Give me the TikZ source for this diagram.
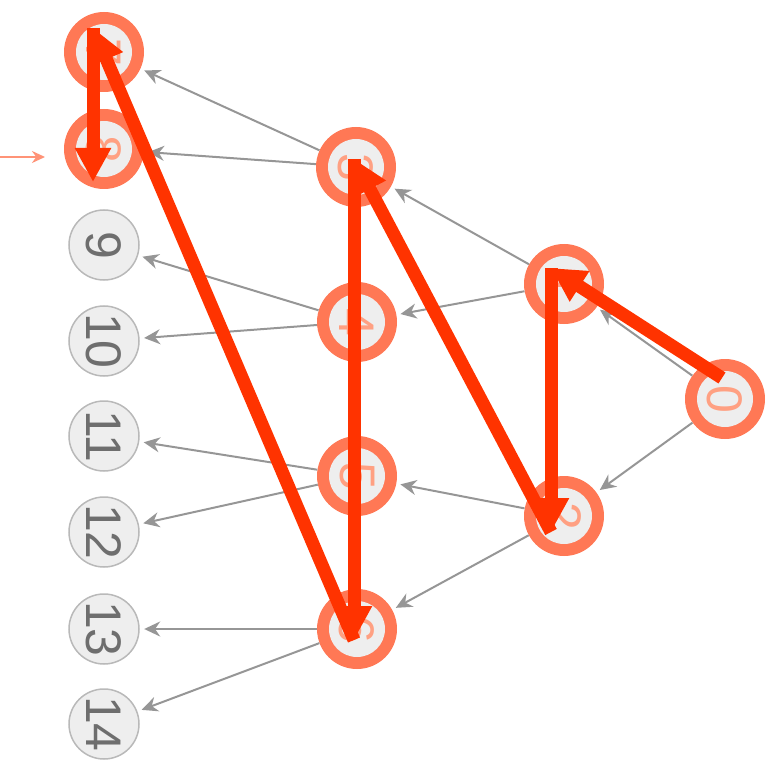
\documentclass[tikz,border=0pt]{standalone}
\usepackage{fontspec}
\setmainfont{Liberation Sans}
\usetikzlibrary{arrows.meta}
\definecolor{hot}{RGB}{255,51,0}
\definecolor{ringcol}{RGB}{255,120,85}
\definecolor{ringtxt}{RGB}{255,160,130}
\definecolor{disccol}{RGB}{238,238,238}
\definecolor{edgegrey}{RGB}{150,150,150}
\definecolor{leaftxt}{RGB}{110,110,110}
\tikzset{
  ringouter/.style={fill=ringcol},
  ringinner/.style={fill=disccol},
  leafdisc/.style={draw=gray!55, fill=disccol, line width=1.5pt},
  doneball/.style={circle, minimum size=80pt, inner sep=0pt, text=ringtxt, font=\fontsize{50}{50}\selectfont},
  leafball/.style={circle, minimum size=72pt, inner sep=0pt, text=leaftxt, font=\fontsize{50}{50}\selectfont},
  treeedge/.style={draw=edgegrey, line width=2pt, -{Stealth[length=16pt,width=15pt]}, shorten >=4pt},
  walk/.style={draw=hot, line width=13pt, -{Triangle[length=34pt,width=34pt]}},
  entry/.style={draw=ringcol!80, line width=2pt, -{Stealth[length=13pt,width=12pt]}}
}
\begin{document}
\begin{tikzpicture}[x=1pt, y=-1pt]
\useasboundingbox (0,0) rectangle (771,762);
% visited nodes
\foreach \px/\py/\k in {725/399/0, 564/284/1, 564/516/2, 356/167/3, 357/322/4, 357/476/5, 357/629/6, 104/52/7, 104/149/8}{
  \path[ringouter] (\px,\py) circle[radius=40];
  \path[ringinner] (\px,\py) circle[radius=28];
  \node[doneball] (n\k) at (\px,\py) {\rotatebox{-90}{\k}};
}
% leaves
\foreach \px/\py/\k in {104/245/9, 104/341/10, 104/436/11, 104/532/12, 104/629/13, 104/724/14}{
  \path[leafdisc] (\px,\py) circle[radius=35];
  \node[leafball] (n\k) at (\px,\py) {\rotatebox{-90}{\k}};
}
% tree edges
\draw[treeedge] (n0) -- (n1);
\draw[treeedge] (n0) -- (n2);
\draw[treeedge] (n1) -- (n3);
\draw[treeedge] (n1) -- (n4);
\draw[treeedge] (n2) -- (n5);
\draw[treeedge] (n2) -- (n6);
\draw[treeedge] (n3) -- (n7);
\draw[treeedge] (n3) -- (n8);
\draw[treeedge] (n4) -- (n9);
\draw[treeedge] (n4) -- (n10);
\draw[treeedge] (n5) -- (n11);
\draw[treeedge] (n5) -- (n12);
\draw[treeedge] (n6) -- (n13);
\draw[treeedge] (n6) -- (n14);
% entry arrow
\coordinate (in) at (0,157);
\coordinate (inend) at (45,157);
\draw[entry] (in) -- (inend);
% walk
\coordinate (p0) at (722,378);
\coordinate (p1) at (551,268);
\coordinate (p2) at (551,532);
\coordinate (p3) at (354,159);
\coordinate (p6) at (354,640);
\coordinate (p7) at (93,28);
\coordinate (p8) at (93,182);
\draw[walk] (p0) -- (p1);
\draw[walk] (p1) -- (p2);
\draw[walk] (p2) -- (p3);
\draw[walk] (p3) -- (p6);
\draw[walk] (p6) -- (p7);
\draw[walk] (p7) -- (p8);
\end{tikzpicture}
\end{document}
